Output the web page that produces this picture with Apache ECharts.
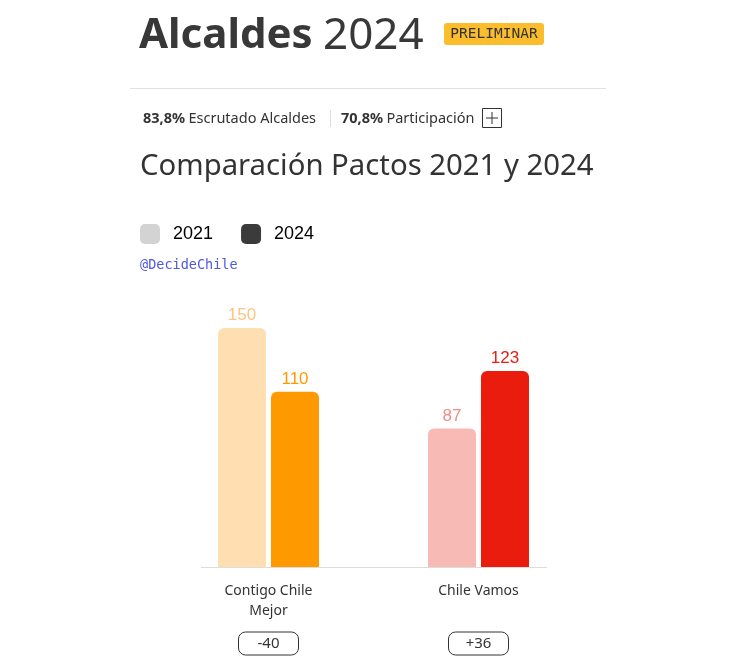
<!DOCTYPE html>
<html>
<head>
<meta charset="utf-8">
<script src="https://cdn.jsdelivr.net/npm/echarts@6/dist/echarts.min.js"></script>
<style>
  html, body { margin: 0; padding: 0; background: #fff; }
  #chart { width: 736px; height: 670px; }
</style>
</head>
<body>
<div id="chart"></div>
<script>
// datos
const pactos = ['Contigo Chile\nMejor', 'Chile Vamos']
const alcaldes2021 = [150, 87]
const alcaldes2024 = [110, 123]
const diferencias = ['-40', '+36']
const colores2021 = ['#ffdfb1', '#f7bab5']
const colores2024 = ['#ff9900', '#ea1c0e']
const coloresLabel2021 = ['#ffc47f', '#ef8c83']
const coloresLabel2024 = ['#ff9900', '#ea1c0e']

const font = '"Noto Sans", sans-serif'
const chart = echarts.init(document.getElementById('chart'))

const option = {
  animation: false,
  legend: {
    left: 140,
    top: 224,
    padding: 0,
    itemWidth: 20,
    itemHeight: 20,
    itemGap: 28,
    icon: 'roundRect',
    selectedMode: false,
    textStyle: {
      color: '#000',
      fontSize: 18,
      fontFamily: '"Liberation Sans", Arial',
      padding: [0, 0, 0, 8],
    },
    data: ['2021', '2024'],
  },
  grid: { left: 163.5, width: 420, top: 328, bottom: 103 },
  xAxis: [
    {
      type: 'category',
      data: pactos,
      axisLine: { show: false },
      axisTick: { show: false },
      axisLabel: {
        margin: 14,
        color: '#333',
        fontSize: 14,
        lineHeight: 20,
        fontFamily: font,
      },
    },
    {
      type: 'category',
      data: diferencias,
      position: 'bottom',
      axisLine: { show: false },
      axisTick: { show: false },
      axisLabel: {
        margin: 65,
        color: '#333',
        fontSize: 15,
        fontFamily: font,
        width: 60,
        height: 23,
        lineHeight: 23,
        align: 'center',
        borderColor: '#333',
        borderWidth: 1,
        borderRadius: 7,
      },
    },
  ],
  yAxis: { type: 'value', min: 0, max: 150, show: false },
  series: [
    {
      name: '2021',
      type: 'bar',
      barWidth: 48,
      barGap: '10.4%',
      color: '#d3d3d3',
      data: alcaldes2021.map((v, i) => ({
        value: v,
        itemStyle: { color: colores2021[i], borderRadius: [6, 6, 0, 0] },
        label: { color: coloresLabel2021[i] },
      })),
      label: {
        show: true,
        position: 'top',
        distance: 4,
        fontSize: 17,
        fontFamily: '"Liberation Sans", Arial',
      },
    },
    {
      name: '2024',
      type: 'bar',
      barWidth: 48,
      color: '#3b3b3b',
      data: alcaldes2024.map((v, i) => ({
        value: v,
        itemStyle: { color: colores2024[i], borderRadius: [6, 6, 0, 0] },
        label: { color: coloresLabel2024[i] },
      })),
      label: {
        show: true,
        position: 'top',
        distance: 4,
        fontSize: 17,
        fontFamily: '"Liberation Sans", Arial',
      },
    },
  ],
  graphic: [
    // titulo
    {
      type: 'text',
      style: {
        x: 139, y: 36, verticalAlign: 'middle',
        text: 'Alcaldes',
        fontSize: 42, fontWeight: 'bold', fontFamily: font, fill: '#383838',
      },
    },
    {
      type: 'text',
      style: {
        x: 323, y: 36, verticalAlign: 'middle',
        text: '2024',
        fontSize: 44, fontFamily: font, fill: '#383838',
      },
    },
    {
      type: 'rect',
      shape: { x: 444, y: 23, width: 100, height: 22, r: 3 },
      style: { fill: '#fbbd2c' },
    },
    {
      type: 'text',
      style: {
        x: 494, y: 34, text: 'PRELIMINAR', align: 'center', verticalAlign: 'middle',
        fontSize: 14.5, fontFamily: '"DejaVu Sans Mono", monospace', fill: '#333',
      },
    },
    {
      type: 'line',
      shape: { x1: 130, y1: 88.5, x2: 606, y2: 88.5 },
      style: { stroke: '#e0e0e0', lineWidth: 1 },
    },
    // escrutinio
    {
      type: 'text',
      style: {
        x: 143, y: 119, verticalAlign: 'middle',
        text: '{b|83,8%} {r|Escrutado Alcaldes}',
        rich: {
          b: { fontSize: 14.5, fontWeight: 'bold', fontFamily: font, fill: '#333' },
          r: { fontSize: 14.5, fontFamily: font, fill: '#333' },
        },
      },
    },
    {
      type: 'line',
      shape: { x1: 330.5, y1: 110, x2: 330.5, y2: 127 },
      style: { stroke: '#ddd', lineWidth: 1 },
    },
    {
      type: 'text',
      style: {
        x: 341, y: 119, verticalAlign: 'middle',
        text: '{b|70,8%} {r|Participación}',
        rich: {
          b: { fontSize: 14.5, fontWeight: 'bold', fontFamily: font, fill: '#333' },
          r: { fontSize: 14.5, fontFamily: font, fill: '#333' },
        },
      },
    },
    {
      type: 'rect',
      shape: { x: 482.5, y: 108.5, width: 19, height: 19 },
      style: { fill: 'none', stroke: '#333', lineWidth: 1 },
    },
    {
      type: 'line',
      shape: { x1: 486, y1: 118, x2: 498, y2: 118 },
      style: { stroke: '#333', lineWidth: 1 },
    },
    {
      type: 'line',
      shape: { x1: 492, y1: 112, x2: 492, y2: 124 },
      style: { stroke: '#333', lineWidth: 1 },
    },
    // subtitulo
    {
      type: 'text',
      style: {
        x: 140, y: 167, verticalAlign: 'middle',
        text: 'Comparación Pactos 2021 y 2024',
        fontSize: 29.3, fontFamily: font, fill: '#333',
      },
    },
    {
      type: 'text',
      style: {
        x: 140, y: 265, verticalAlign: 'middle',
        text: '@DecideChile',
        fontSize: 13.5, fontFamily: '"DejaVu Sans Mono", monospace', fill: '#5058e0',
      },
    },
    // linea base
    {
      type: 'line',
      shape: { x1: 201, y1: 567.5, x2: 547, y2: 567.5 },
      style: { stroke: '#dcdcdc', lineWidth: 1 },
    },
  ],
}

chart.setOption(option)
</script>
</body>
</html>
